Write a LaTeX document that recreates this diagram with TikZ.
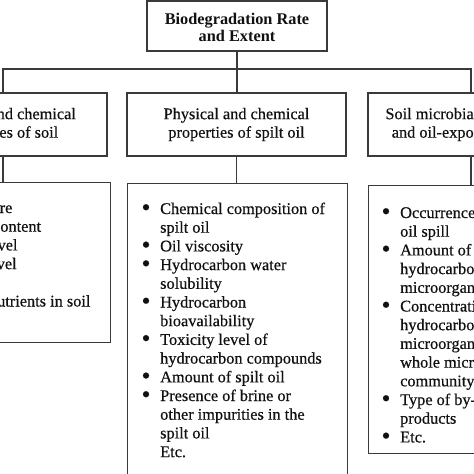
\documentclass[tikz,border=0pt]{standalone}
\usepackage{fontspec}
\setmainfont{Liberation Serif}[UprightFeatures={FakeBold=0.5}]
\definecolor{linegray}{HTML}{3A3A3A}
\definecolor{textcol}{HTML}{111111}
\newcommand{\bul}{\makebox[18pt][l]{\hspace*{-0.6pt}\raisebox{-1.6pt}{\scalebox{1.55}{\textbullet}}}}
\newcommand{\ind}{\hspace*{18pt}}
\tikzset{
  box/.style={draw=linegray, line width=1.3pt, rectangle, inner sep=0pt},
  conn/.style={draw=linegray, line width=1.3pt},
  head/.style={font=\fontsize{16.3}{18.5}\selectfont, align=center, text=textcol},
  listtext/.style={font=\fontsize{16.3}{18.7}\selectfont, inner sep=0pt, anchor=base west, text=textcol},
}
\begin{document}
\begin{tikzpicture}[x=1pt,y=-1pt]
\useasboundingbox (0,0) rectangle (474,474);
\clip (0,0) rectangle (474,474);
\fill[white] (0,0) rectangle (474,474);

% level 1
\node[box, line width=1.8pt, minimum width=180pt, minimum height=50pt, head,
      font=\bfseries\fontsize{16.3}{17.5}\selectfont] (top) at (237,26)
      {\rule{0pt}{14pt}Biodegradation Rate\\and Extent};

% level 2
\node[box, head, minimum width=208pt, minimum height=63pt] (l2) at (3,124.5)
      {Physical and chemical\\properties of soil};
\node[box, head, minimum width=219pt, minimum height=63pt] (c2) at (236.5,124.5)
      {Physical and chemical\\properties of spilt oil};
\node[box, head, minimum width=206pt, minimum height=63pt] (r2) at (471,124.5)
      {Soil microbial community\\and oil-exposure history};

% level 3 boxes
\node[box, anchor=north east, minimum width=220pt, minimum height=160pt] (l3) at (111,182) {};
\node[box, anchor=north west, minimum width=220pt, minimum height=320pt] (c3) at (127,183) {};
\node[box, anchor=north west, minimum width=220pt, minimum height=268pt] (r3) at (368,185) {};

% connectors
\coordinate (bus) at (237,69);
\draw[conn] (top.south) -- (top.south |- c2.north);
\draw[conn] (l2.north) -- (l2.north |- bus) -- (r2.north |- bus) -- (r2.north);
\draw[conn] (l2.south) -- (l2.south |- l3.north);
\draw[conn] (c2.south) -- (c2.south |- c3.north);
\draw[conn] (r2.south) -- (r2.south |- r3.north);

% lists
\node[listtext] (l3t) at (-88,213) {\parbox[t]{250pt}{%
\bul Temperature\\
\bul Moisture content\\
\bul Oxygen level\\
\bul Salinity level\\
\bul pH\\
\bul Level of nutrients in soil}};

\node[listtext] (c3t) at (142,214) {\parbox[t]{250pt}{%
\bul Chemical composition of\\
\ind spilt oil\\
\bul Oil viscosity\\
\bul Hydrocarbon water\\
\ind solubility\\
\bul Hydrocarbon\\
\ind bioavailability\\
\bul Toxicity level of\\
\ind hydrocarbon compounds\\
\bul Amount of spilt oil\\
\bul Presence of brine or\\
\ind other impurities in the\\
\ind spilt oil\\
\ind Etc.}};

\node[listtext] (r3t) at (382,218) {\parbox[t]{250pt}{%
\bul Occurrence of previous\\
\ind oil spill\\
\bul Amount of\\
\ind hydrocarbon-degrading\\
\ind microorganisms\\
\bul Concentration of\\
\ind hydrocarbon-degrading\\
\ind microorganisms in the\\
\ind whole microbial\\
\ind community\\
\bul Type of by-\\
\ind products\\
\bul Etc.}};
\end{tikzpicture}
\end{document}
